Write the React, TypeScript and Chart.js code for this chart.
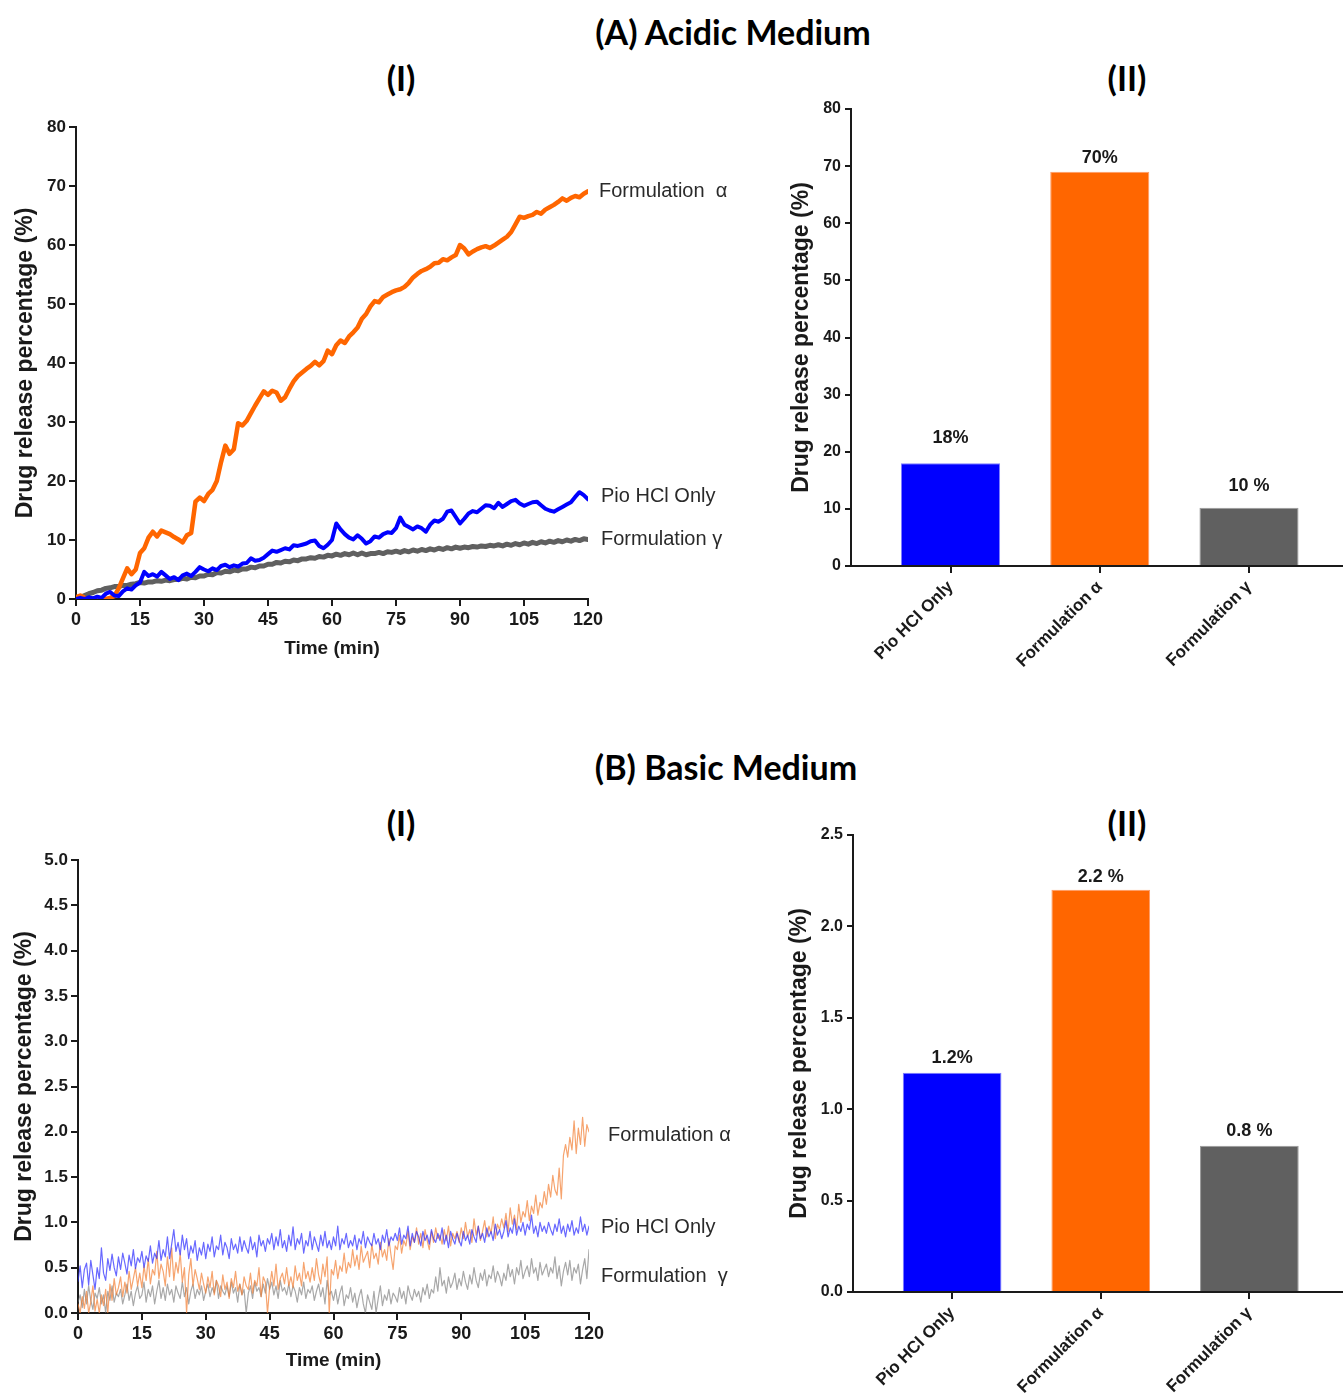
import React, { useEffect, useRef } from "react";
import { Chart, registerables } from "chart.js";

Chart.register(...registerables);

// ---------------- DATA ----------------
const ACID_STEP_MIN = 1;
const BASIC_STEP_MIN = 0.5;

// (A) Acidic medium, release (%) sampled each minute, 0..120 min
const acidFormulationAlpha = [
  0.3, 0.6, 0.2, 0, 0, 0, 0, 0, 0.2, 0.5,
  1.8, 3.5, 5.2, 4.2, 5.0, 7.8, 8.6, 10.4, 11.4, 10.6,
  11.6, 11.3, 11.0, 10.5, 10.1, 9.6, 10.8, 11.2, 16.5, 17.2,
  16.6, 17.8, 18.5, 20.0, 23.2, 26.0, 24.6, 25.4, 29.8, 29.4,
  30.2, 31.5, 32.8, 34.0, 35.2, 34.6, 35.3, 35.0, 33.6, 34.2,
  35.6, 36.9, 37.8, 38.4, 39.0, 39.5, 40.2, 39.6, 40.3, 42.1,
  41.5, 43.0, 43.8, 43.4, 44.5, 45.2, 46.0, 47.5, 48.3, 49.6,
  50.5, 50.3, 51.2, 51.6, 52.0, 52.3, 52.5, 52.9, 53.6, 54.5,
  55.1, 55.6, 55.9, 56.3, 56.9, 57.0, 57.6, 57.4, 57.9, 58.3,
  60.0, 59.4, 58.4, 58.9, 59.3, 59.6, 59.8, 59.5, 59.9, 60.4,
  60.9, 61.4, 62.2, 63.5, 64.8, 64.6, 64.9, 65.1, 65.6, 65.3,
  66.0, 66.4, 66.8, 67.3, 67.9, 67.5, 68.0, 68.3, 68.1, 68.7,
  69.1,
];
const acidPioHCl = [
  0, 0.2, 0, 0.3, 0.1, 0.4, 0.2, 0.9, 1.2, 0.6,
  0.5, 1.3, 1.8, 1.6, 2.3, 2.8, 4.6, 3.9, 4.2, 3.8,
  4.6, 4.0, 3.4, 3.7, 3.2, 4.0, 4.3, 3.9, 4.6, 5.4,
  5.0, 4.7, 5.2, 4.9, 5.6, 5.8, 5.4, 5.7, 5.5, 6.0,
  6.1, 6.9, 6.5, 6.6, 7.0, 7.6, 8.2, 8.0, 8.3, 8.6,
  8.4, 9.1, 9.0, 9.2, 9.4, 9.8, 9.9, 9.0, 8.6, 9.2,
  10.0, 12.8, 11.8, 11.0, 10.4, 10.1, 10.8, 10.2, 9.4, 9.8,
  10.6, 10.4, 11.0, 11.3, 11.2, 12.0, 13.8, 12.6, 12.2, 11.8,
  12.3, 12.0, 11.4, 12.6, 13.3, 13.1, 13.6, 14.8, 15.0, 13.9,
  12.8, 13.6, 14.5, 14.9, 14.7, 15.3, 15.9, 15.8, 15.4, 16.3,
  15.6, 16.1, 16.6, 16.8, 16.2, 15.8, 16.1, 16.4, 16.5, 15.9,
  15.3, 15.0, 14.8, 15.2, 15.6, 16.0, 16.4, 17.3, 18.1, 17.6,
  16.9,
];
const acidFormulationGamma = [
  0, 0.3, 0.6, 0.9, 1.1, 1.4, 1.5, 1.8, 1.9, 2.1,
  2.1, 2.3, 2.3, 2.5, 2.6, 2.8, 2.7, 2.9, 2.9, 3.1,
  3.0, 3.2, 3.1, 3.3, 3.3, 3.5, 3.4, 3.7, 3.6, 3.9,
  3.9, 4.2, 4.1, 4.5, 4.4, 4.7, 4.6, 4.9, 4.8, 5.1,
  5.1, 5.4, 5.3, 5.6, 5.6, 5.9, 5.9, 6.2, 6.1, 6.4,
  6.3, 6.6, 6.5, 6.8, 6.8, 7.0, 6.9, 7.2, 7.1, 7.4,
  7.3, 7.6, 7.4, 7.7, 7.5, 7.8, 7.5, 7.8, 7.5, 7.7,
  7.7, 7.9, 7.7, 8.0, 7.9, 8.1, 7.9, 8.2, 8.0, 8.3,
  8.1, 8.4, 8.2, 8.5, 8.3, 8.6, 8.4, 8.7, 8.5, 8.8,
  8.6, 8.8, 8.7, 8.9, 8.8, 9.0, 8.9, 9.1, 9.0, 9.2,
  9.0, 9.3, 9.1, 9.4, 9.2, 9.5, 9.3, 9.6, 9.4, 9.7,
  9.5, 9.8, 9.6, 9.9, 9.7, 10.0, 9.8, 10.1, 9.9, 10.2,
  10.1,
];

// (B) Basic medium, release (%) sampled each half minute, 0..120 min
const basicFormulationAlpha = [
  0.1, 0.0, 0.18, 0.05, 0.24, 0.0, 0.12, 0.3, 0.02, 0.15,
  0.0, 0.2, 0.08, 0.26, 0.0, 0.32, 0.14, 0.38, 0.2, 0.28,
  0.4, 0.18, 0.34, 0.22, 0.46, 0.26, 0.38, 0.5, 0.3, 0.44,
  0.28, 0.52, 0.36, 0.6, 0.32, 0.48, 0.42, 0.68, 0.38, 0.54,
  0.46, 0.3, 0.62, 0.4, 0.72, 0.36, 0.56, 0.44, 0.66, 0.34,
  0.5, 0.0, 0.42, 0.6, 0.3, 0.48, 0.38, 0.26, 0.44, 0.32,
  0.22, 0.4, 0.28, 0.46, 0.2, 0.36, 0.3, 0.18, 0.42, 0.26,
  0.34, 0.16, 0.38, 0.28, 0.46, 0.24, 0.32, 0.2, 0.4, 0.3,
  0.26, 0.44, 0.22, 0.36, 0.3, 0.5, 0.18, 0.4, 0.34, 0.0,
  0.28, 0.46, 0.3, 0.54, 0.26, 0.38, 0.44, 0.32, 0.5, 0.3,
  0.4, 0.28, 0.52, 0.36, 0.44, 0.3, 0.56, 0.38, 0.46, 0.34,
  0.5, 0.36, 0.6, 0.42, 0.32, 0.54, 0.4, 0.62, 0.0, 0.48,
  0.42, 0.58, 0.38, 0.52, 0.46, 0.66, 0.44, 0.56, 0.5, 0.7,
  0.52, 0.64, 0.48, 0.74, 0.56, 0.62, 0.68, 0.5, 0.76, 0.6,
  0.66, 0.54, 0.78, 0.62, 0.7, 0.58, 0.82, 0.64, 0.48, 0.74,
  0.7, 0.86, 0.66, 0.8, 0.74, 0.9, 0.7, 0.84, 0.78, 0.94,
  0.76, 0.88, 0.72, 0.92, 0.8, 0.7, 0.9, 0.78, 0.94, 0.82,
  0.86, 0.76, 0.92, 0.8, 0.96, 0.74, 0.88, 0.82, 0.9, 0.78,
  0.94, 0.82, 1.0, 0.84, 0.92, 0.78, 1.04, 0.86, 0.96, 0.8,
  0.9, 1.02, 0.84, 0.96, 0.88, 1.06, 0.82, 0.98, 0.92, 1.04,
  0.94, 1.1, 0.9, 1.16, 0.98, 1.08, 0.92, 1.2, 1.0, 1.12,
  1.06, 1.24, 1.02, 1.18, 1.1, 1.3, 1.08, 1.22, 1.16, 1.34,
  1.2, 1.42, 1.28, 1.52, 1.36, 1.3, 1.6, 1.26, 1.74, 1.86,
  1.72, 1.94, 1.8, 2.12, 1.76, 2.04, 1.86, 2.16, 1.84, 2.08,
  2.0,
];
const basicPioHCl = [
  0.35, 0.52, 0.28, 0.48, 0.55, 0.31, 0.58, 0.42, 0.26, 0.5,
  0.38, 0.72, 0.44, 0.36, 0.6, 0.47, 0.65, 0.5, 0.41, 0.62,
  0.48, 0.66, 0.55, 0.43, 0.64, 0.52, 0.7, 0.49, 0.61, 0.56,
  0.68, 0.5, 0.63, 0.57, 0.74, 0.55, 0.66, 0.6, 0.8, 0.58,
  0.7, 0.62, 0.84, 0.6, 0.76, 0.92, 0.68, 0.78, 0.64, 0.86,
  0.7, 0.82, 0.6, 0.74, 0.66, 0.8, 0.58, 0.72, 0.64, 0.78,
  0.6, 0.76, 0.68, 0.84, 0.62, 0.74, 0.7, 0.86, 0.64, 0.78,
  0.72, 0.6, 0.82, 0.7, 0.76, 0.66, 0.84, 0.68, 0.8, 0.72,
  0.66, 0.84, 0.7, 0.78, 0.62, 0.86, 0.74, 0.8, 0.68, 0.82,
  0.76, 0.88, 0.7, 0.84, 0.74, 0.92, 0.72, 0.8, 0.68, 0.86,
  0.74, 0.95, 0.7, 0.82, 0.76, 0.88, 0.66, 0.8, 0.74, 0.9,
  0.7, 0.84, 0.76, 0.68, 0.86, 0.74, 0.9, 0.72, 0.8, 0.7,
  0.84, 0.74, 0.96, 0.7, 0.82, 0.76, 0.88, 0.72, 0.8, 0.74,
  0.86, 0.7, 0.82, 0.76, 0.9, 0.72, 0.84, 0.78, 0.74, 0.88,
  0.76, 0.82, 0.7, 0.86, 0.78, 0.92, 0.74, 0.84, 0.8, 0.88,
  0.8, 0.94, 0.76, 0.86, 0.82, 0.96, 0.74, 0.88, 0.78, 0.9,
  0.84, 0.74, 0.9, 0.8, 0.86, 0.76, 0.92, 0.82, 0.78, 0.88,
  0.8, 0.94, 0.76, 0.86, 0.72, 0.9, 0.82, 0.76, 0.88, 0.8,
  0.74, 0.9, 0.8, 0.86, 0.76, 0.92, 0.84, 0.78, 0.96, 0.82,
  0.88, 0.78, 0.94, 0.84, 0.9, 0.8, 0.98, 0.86, 0.92, 0.82,
  0.9, 1.02, 0.84, 0.94, 0.88, 1.04, 0.86, 0.96, 0.9, 1.0,
  0.86, 0.98, 0.92, 1.08, 0.88, 0.96, 0.84, 1.0, 0.9, 0.96,
  0.88, 1.0, 0.92, 0.86, 0.98, 0.9, 1.04, 0.88, 0.96, 0.84,
  0.98, 0.9, 1.02, 0.86, 0.94, 0.88, 1.06, 0.9, 0.98, 0.86,
  0.96,
];
const basicFormulationGamma = [
  0.12, 0.2, 0.06, 0.26, 0.1, 0.3, 0.14, 0.04, 0.22, 0.16,
  0.28, 0.1, 0.2, 0.0, 0.24, 0.14, 0.3, 0.12, 0.22, 0.18,
  0.26, 0.1, 0.2, 0.32, 0.14, 0.24, 0.08, 0.22, 0.3, 0.16,
  0.2, 0.34, 0.12, 0.26, 0.18, 0.3, 0.1, 0.24, 0.36, 0.16,
  0.28, 0.14, 0.32, 0.2, 0.26, 0.12, 0.3, 0.22, 0.16, 0.34,
  0.18, 0.28, 0.1, 0.24, 0.32, 0.16, 0.26, 0.2, 0.3, 0.14,
  0.24, 0.32, 0.18, 0.28, 0.22, 0.36, 0.16, 0.3, 0.24, 0.2,
  0.3, 0.18, 0.34, 0.22, 0.28, 0.12, 0.32, 0.2, 0.26, 0.0,
  0.22, 0.3, 0.16, 0.34, 0.24, 0.28, 0.18, 0.32, 0.22, 0.38,
  0.26, 0.34, 0.2, 0.3, 0.16, 0.36, 0.24, 0.28, 0.2, 0.32,
  0.18, 0.3, 0.24, 0.12, 0.28, 0.2, 0.34, 0.16, 0.26, 0.22,
  0.3, 0.14, 0.24, 0.32, 0.18, 0.28, 0.1, 0.36, 0.2, 0.24,
  0.14, 0.26, 0.1, 0.22, 0.3, 0.08, 0.2, 0.16, 0.28, 0.12,
  0.22, 0.06, 0.18, 0.26, 0.1, 0.0, 0.2, 0.12, 0.04, 0.24,
  0.0, 0.16, 0.3, 0.08, 0.2, 0.14, 0.26, 0.1, 0.22, 0.18,
  0.12, 0.28, 0.16, 0.24, 0.1, 0.3, 0.2, 0.14, 0.26, 0.18,
  0.24, 0.12, 0.28, 0.2, 0.32, 0.16, 0.26, 0.22, 0.4, 0.24,
  0.5, 0.3, 0.36, 0.22, 0.4, 0.28, 0.34, 0.44, 0.26, 0.38,
  0.3, 0.46, 0.34, 0.26, 0.42, 0.32, 0.5, 0.36, 0.28, 0.44,
  0.36, 0.48, 0.3, 0.42, 0.38, 0.52, 0.34, 0.46, 0.4, 0.3,
  0.44, 0.36, 0.54, 0.4, 0.48, 0.32, 0.5, 0.42, 0.58, 0.38,
  0.46, 0.52, 0.4, 0.6, 0.44, 0.5, 0.36, 0.56, 0.42, 0.48,
  0.54, 0.4, 0.5, 0.44, 0.62, 0.38, 0.52, 0.3, 0.46, 0.56,
  0.42, 0.58, 0.36, 0.5, 0.44, 0.54, 0.32, 0.48, 0.6, 0.38,
  0.7,
];

const timeTicks = [0, 15, 30, 45, 60, 75, 90, 105, 120];
const acidYTicks = [0, 10, 20, 30, 40, 50, 60, 70, 80];
const basicYTicks = [0, 0.5, 1, 1.5, 2, 2.5, 3, 3.5, 4, 4.5, 5];
const basicBarYTicks = [0, 0.5, 1, 1.5, 2, 2.5];

const acidLineLabels = ["Formulation  α", "Pio HCl Only", "Formulation γ"];
const acidLabelValues = [69.1, 17.3, 10.1];
const basicLineLabels = ["Formulation α", "Pio HCl Only", "Formulation  γ"];
const basicLabelValues = [1.96, 0.94, 0.4];

const barCategories = ["Pio HCl Only", "Formulation α", "Formulation γ"];
const acidBarValues = [18, 69, 10.2];
const acidBarLabels = ["18%", "70%", "10 %"];
const basicBarValues = [1.2, 2.2, 0.8];
const basicBarLabels = ["1.2%", "2.2 %", "0.8 %"];

// ---------------- STYLE ----------------
const ORANGE = "#ff6600";
const BLUE = "#0000ff";
const GRAY = "#606060";
const INK = "#1a1a1a";
const SANS = "'Liberation Sans', Arial, Helvetica, sans-serif";

Chart.defaults.font.family = SANS;
Chart.defaults.color = INK;

const endLabelPlugin = {
  id: "endLabels",
  afterDatasetsDraw(chart: any, _args: any, opts: any) {
    const { ctx, chartArea, scales } = chart;
    ctx.save();
    ctx.font = `20px ${SANS}`;
    ctx.fillStyle = "#2a2a2a";
    ctx.textAlign = "left";
    ctx.textBaseline = "middle";
    (opts.texts || []).forEach((t: string, i: number) => {
      ctx.fillText(t, chartArea.right + opts.dx[i], scales.y.getPixelForValue(opts.values[i]));
    });
    ctx.restore();
  },
};

const barValuePlugin = {
  id: "barValues",
  afterDatasetsDraw(chart: any, _args: any, opts: any) {
    const { ctx } = chart;
    const meta = chart.getDatasetMeta(0);
    ctx.save();
    ctx.font = `bold 18px ${SANS}`;
    ctx.fillStyle = INK;
    ctx.textAlign = "center";
    ctx.textBaseline = "middle";
    meta.data.forEach((el: any, i: number) => {
      ctx.fillText(opts.texts[i], el.x, el.y - opts.gaps[i]);
    });
    ctx.restore();
  },
};

function axisBase(tickLength: number) {
  return {
    grid: {
      drawOnChartArea: false,
      drawTicks: true,
      tickLength,
      color: INK,
      lineWidth: 2,
      offset: false,
    },
    border: { display: true, color: INK, width: 2 },
  };
}

type Series = { values: number[]; step: number; color: string; width: number; order: number };

function lineConfig(p: {
  series: Series[];
  yTicks: number[];
  yDecimals: number;
  labels: string[];
  labelValues: number[];
  labelDx: number[];
  padding: any;
  yWidth: number;
  xHeight: number;
  yTitlePad: number;
  xTitlePad: number;
}): any {
  return {
    type: "line",
    data: {
      datasets: p.series.map((s) => ({
        data: s.values.map((v, i) => ({ x: i * s.step, y: v })),
        borderColor: s.color,
        borderWidth: s.width,
        pointRadius: 0,
        tension: 0,
        fill: false,
        order: s.order,
        borderJoinStyle: "round",
        borderCapStyle: "round",
      })),
    },
    options: {
      responsive: false,
      animation: false,
      events: [],
      layout: { padding: p.padding },
      plugins: {
        legend: { display: false },
        tooltip: { enabled: false },
        endLabels: { texts: p.labels, values: p.labelValues, dx: p.labelDx },
      },
      scales: {
        x: {
          type: "linear",
          min: timeTicks[0],
          max: timeTicks[timeTicks.length - 1],
          afterBuildTicks: (s: any) => {
            s.ticks = timeTicks.map((v) => ({ value: v }));
          },
          afterFit: (s: any) => {
            s.height = p.xHeight;
          },
          ticks: {
            autoSkip: false,
            maxRotation: 0,
            padding: 3,
            color: INK,
            font: { size: 18, weight: "bold" },
            callback: (v: any) => String(v),
          },
          title: {
            display: true,
            text: "Time (min)",
            color: INK,
            font: { size: 19, weight: "bold" },
            padding: { top: 0, bottom: p.xTitlePad },
          },
          ...axisBase(7),
        },
        y: {
          type: "linear",
          min: p.yTicks[0],
          max: p.yTicks[p.yTicks.length - 1],
          afterBuildTicks: (s: any) => {
            s.ticks = p.yTicks.map((v) => ({ value: v }));
          },
          afterFit: (s: any) => {
            s.width = p.yWidth;
          },
          ticks: {
            autoSkip: false,
            padding: 3,
            color: INK,
            font: { size: 17, weight: "bold" },
            callback: (v: any) => Number(v).toFixed(p.yDecimals),
          },
          title: {
            display: true,
            text: "Drug release percentage (%)",
            color: INK,
            font: { size: 23, weight: "bold" },
            padding: { top: p.yTitlePad, bottom: 0 },
          },
          ...axisBase(7),
        },
      },
    },
    plugins: [endLabelPlugin],
  };
}

function barConfig(p: {
  values: number[];
  texts: string[];
  gaps: number[];
  yTicks: number[];
  yDecimals: number;
  padding: any;
  yWidth: number;
  xHeight: number;
  yTitlePad: number;
}): any {
  return {
    type: "bar",
    data: {
      datasets: [
        {
          data: barCategories.map((_, i) => ({ x: i + 1, y: p.values[i] })),
          backgroundColor: [BLUE, ORANGE, GRAY],
          borderColor: ["#7f7fff", "#ff9a66", "#9a9a9a"],
          borderWidth: 1,
          categoryPercentage: 1,
          barPercentage: 0.664,
        },
      ],
    },
    options: {
      responsive: false,
      animation: false,
      events: [],
      layout: { padding: p.padding },
      plugins: {
        legend: { display: false },
        tooltip: { enabled: false },
        barValues: { texts: p.texts, gaps: p.gaps },
      },
      scales: {
        x: {
          type: "linear",
          offset: false,
          min: 0.333,
          max: 3.63,
          afterBuildTicks: (s: any) => {
            s.ticks = barCategories.map((_, i) => ({ value: i + 1 }));
          },
          afterFit: (s: any) => {
            s.height = p.xHeight;
          },
          ticks: {
            autoSkip: false,
            minRotation: 45,
            maxRotation: 45,
            padding: 4,
            color: INK,
            font: { size: 17, weight: "bold" },
            callback: (_v: any, i: number) => barCategories[i],
          },
          ...axisBase(7),
        },
        y: {
          type: "linear",
          min: p.yTicks[0],
          max: p.yTicks[p.yTicks.length - 1],
          afterBuildTicks: (s: any) => {
            s.ticks = p.yTicks.map((v) => ({ value: v }));
          },
          afterFit: (s: any) => {
            s.width = p.yWidth;
          },
          ticks: {
            autoSkip: false,
            padding: 4,
            color: INK,
            font: { size: 16, weight: "bold" },
            callback: (v: any) => Number(v).toFixed(p.yDecimals),
          },
          title: {
            display: true,
            text: "Drug release percentage (%)",
            color: INK,
            font: { size: 23, weight: "bold" },
            padding: { top: p.yTitlePad, bottom: 0 },
          },
          ...axisBase(6),
        },
      },
    },
    plugins: [barValuePlugin],
  };
}

function ChartBox(props: { left: number; top: number; width: number; height: number; build: () => any }) {
  const ref = useRef<HTMLCanvasElement>(null);
  useEffect(() => {
    const chart = new Chart(ref.current as HTMLCanvasElement, props.build());
    return () => chart.destroy();
  }, []);
  return (
    <canvas
      ref={ref}
      width={props.width}
      height={props.height}
      style={{ position: "absolute", left: props.left, top: props.top, width: props.width, height: props.height }}
    />
  );
}

function Heading(props: { text: string; x: number; y: number }) {
  return (
    <div
      style={{
        position: "absolute",
        left: props.x,
        top: props.y,
        transform: "translate(-50%, -50%)",
        font: "700 34px Lato, 'Open Sans', sans-serif",
        lineHeight: 1,
        whiteSpace: "nowrap",
        color: "#000",
      }}
    >
      {props.text}
    </div>
  );
}

export default function App() {
  return (
    <div
      style={{
        position: "absolute",
        left: 0,
        top: 0,
        width: 1343,
        height: 1398,
        background: "#fff",
        overflow: "hidden",
      }}
    >
      <Heading text="(A) Acidic Medium" x={733} y={32} />
      <Heading text="(I)" x={401} y={78} />
      <Heading text="(II)" x={1127} y={78} />
      <Heading text="(B) Basic Medium" x={726} y={767} />
      <Heading text="(I)" x={401} y={823} />
      <Heading text="(II)" x={1127} y={823} />

      <ChartBox
        left={0}
        top={100}
        width={740}
        height={580}
        build={() =>
          lineConfig({
            series: [
              { values: acidPioHCl, step: ACID_STEP_MIN, color: BLUE, width: 4, order: 1 },
              { values: acidFormulationAlpha, step: ACID_STEP_MIN, color: ORANGE, width: 4.5, order: 2 },
              { values: acidFormulationGamma, step: ACID_STEP_MIN, color: GRAY, width: 5, order: 3 },
            ],
            yTicks: acidYTicks,
            yDecimals: 0,
            labels: acidLineLabels,
            labelValues: acidLabelValues,
            labelDx: [11, 13, 13],
            padding: { left: 0, right: 152, top: 27, bottom: 0 },
            yWidth: 76,
            xHeight: 81,
            yTitlePad: 12,
            xTitlePad: 20,
          })
        }
      />

      <ChartBox
        left={780}
        top={95}
        width={563}
        height={600}
        build={() =>
          barConfig({
            values: acidBarValues,
            texts: acidBarLabels,
            gaps: [25, 14, 22],
            yTicks: acidYTicks,
            yDecimals: 0,
            padding: { left: 0, right: 0, top: 14, bottom: 0 },
            yWidth: 71,
            xHeight: 129,
            yTitlePad: 8,
          })
        }
      />

      <ChartBox
        left={0}
        top={835}
        width={740}
        height={563}
        build={() =>
          lineConfig({
            series: [
              { values: basicPioHCl, step: BASIC_STEP_MIN, color: "rgba(40,40,255,0.7)", width: 1.2, order: 1 },
              { values: basicFormulationAlpha, step: BASIC_STEP_MIN, color: "rgba(242,125,50,0.7)", width: 1.2, order: 2 },
              { values: basicFormulationGamma, step: BASIC_STEP_MIN, color: "rgba(110,110,110,0.6)", width: 1.2, order: 3 },
            ],
            yTicks: basicYTicks,
            yDecimals: 1,
            labels: basicLineLabels,
            labelValues: basicLabelValues,
            labelDx: [19, 12, 12],
            padding: { left: 0, right: 151, top: 25, bottom: 0 },
            yWidth: 78,
            xHeight: 85,
            yTitlePad: 11,
            xTitlePad: 26,
          })
        }
      />

      <ChartBox
        left={780}
        top={810}
        width={563}
        height={588}
        build={() =>
          barConfig({
            values: basicBarValues,
            texts: basicBarLabels,
            gaps: [15, 13, 15],
            yTicks: basicBarYTicks,
            yDecimals: 1,
            padding: { left: 0, right: 0, top: 25, bottom: 0 },
            yWidth: 73,
            xHeight: 106,
            yTitlePad: 6,
          })
        }
      />
    </div>
  );
}
